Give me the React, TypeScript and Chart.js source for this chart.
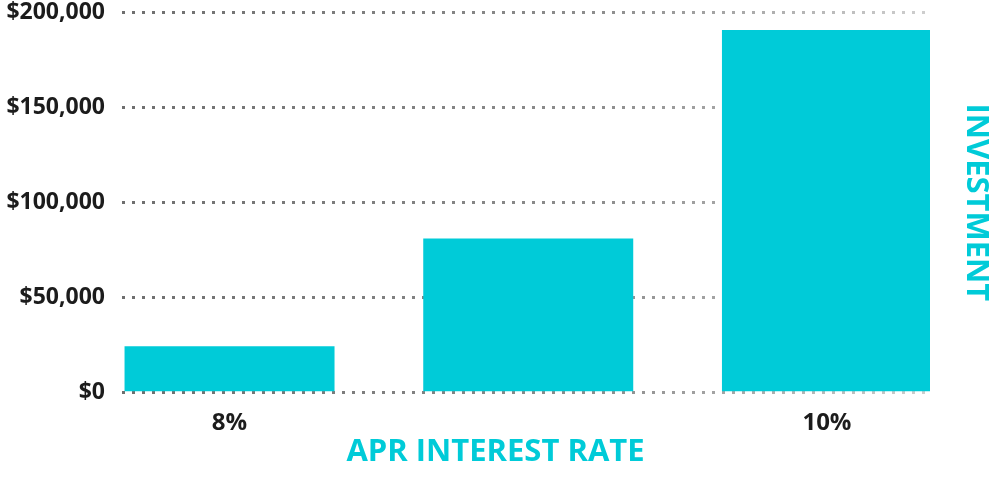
import { useEffect, useRef } from 'react';
import Chart from 'chart.js/auto';

// APR vs investment bars, dotted fading grid, titles bottom + right.
const RATES = ['8%', '', '10%'];
const INVESTMENT = [24500, 81000, 190500];
const Y_TICKS = [0, 50000, 100000, 150000, 200000];

const CYAN = '#00cbd8';
const INK = '#1c1c1c';
const FONT = "'Open Sans', sans-serif";

export default function App() {
  const canvasRef = useRef<HTMLCanvasElement | null>(null);

  useEffect(() => {
    const el = canvasRef.current;
    if (!el) return;

    const chart = new Chart(el, {
      type: 'bar',
      data: {
        datasets: [
          {
            label: 'Investment',
            data: INVESTMENT.map((v, i) => ({ x: i, y: v })),
            backgroundColor: CYAN,
            borderWidth: 0,
            barPercentage: 0.703,
            categoryPercentage: 1,
          },
        ],
      },
      options: {
        animation: false,
        responsive: true,
        maintainAspectRatio: false,
        layout: { padding: { top: 12, left: 0, right: 0, bottom: 0 } },
        scales: {
          x: {
            type: 'linear',
            offset: false,
            min: -0.36,
            max: 2.345,
            afterBuildTicks: (axis: any) => {
              axis.ticks = RATES.map((_, i) => ({ value: i }));
            },
            afterFit: (axis: any) => {
              axis.height = 41;
            },
            ticks: {
              callback: (v: any) => RATES[v] ?? '',
              color: INK,
              padding: 16,
              font: { family: FONT, size: 24, weight: 'bold' },
              maxRotation: 0,
              autoSkip: false,
            },
            grid: { display: false, drawTicks: false },
            border: { display: false },
          },
          y: {
            min: 0,
            max: 200000,
            afterBuildTicks: (axis: any) => {
              axis.ticks = Y_TICKS.map((v) => ({ value: v }));
            },
            afterFit: (axis: any) => {
              axis.width = 122;
              axis.paddingTop = 0;
              axis.paddingBottom = 0;
            },
            ticks: {
              callback: (v: any) => '$' + Number(v).toLocaleString('en-US'),
              color: INK,
              padding: 17,
              font: { family: FONT, size: 23, weight: 'bold' },
            },
            grid: {
              drawTicks: false,
              lineWidth: 3,
              color: (ctx: any) => {
                const { chart: c } = ctx;
                const area = c.chartArea;
                if (!area) return '#808080';
                const g = c.ctx.createLinearGradient(area.left, 0, area.right, 0);
                g.addColorStop(0, '#6e6e6e');
                g.addColorStop(0.6, '#8e8e8e');
                g.addColorStop(1, '#cfcfcf');
                return g;
              },
            },
            border: { display: false, dash: [3, 7] },
          },
        },
        plugins: {
          legend: { display: false },
          tooltip: { enabled: false },
          title: {
            display: true,
            text: 'APR INTEREST RATE',
            position: 'bottom',
            color: CYAN,
            font: { family: FONT, size: 31, weight: 'bold', lineHeight: 1.2 },
            padding: { top: 0, bottom: 11 },
          },
          subtitle: {
            display: true,
            text: 'INVESTMENT',
            position: 'right',
            fullSize: false,
            color: CYAN,
            font: { family: FONT, size: 31, weight: 'bold', lineHeight: 1 },
            padding: { top: 0, bottom: 30 },
          },
        },
      },
    });

    return () => chart.destroy();
  }, []);

  return (
    <>
      <style>{'body{margin:0}'}</style>
      <div style={{ width: 991, height: 482, position: 'relative' }}>
        <canvas ref={canvasRef} />
      </div>
    </>
  );
}
